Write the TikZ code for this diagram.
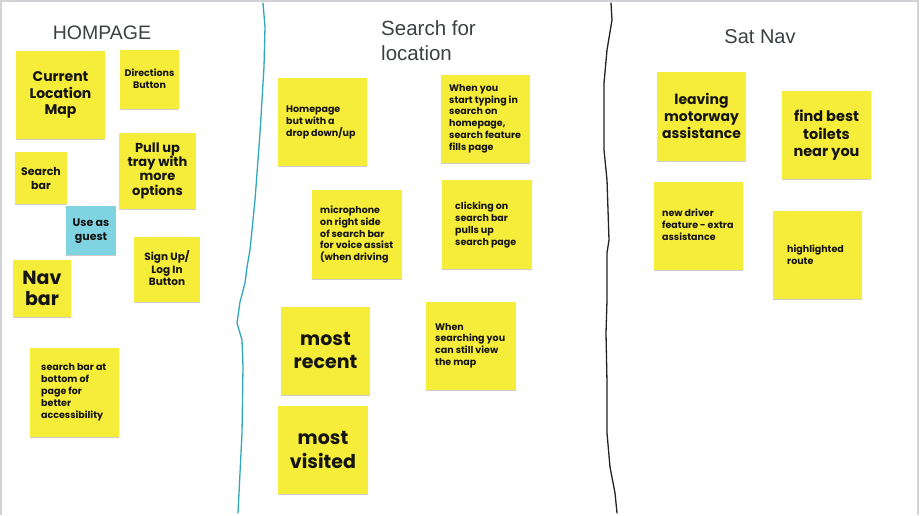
\documentclass[tikz,border=0pt]{standalone}
\usepackage{fontspec}
\setmainfont{Liberation Sans}
\newfontfamily\notefont{Poppins}
\usetikzlibrary{shadows}
\definecolor{notey}{RGB}{246,236,58}
\definecolor{notec}{RGB}{128,212,226}
\definecolor{ink}{RGB}{20,20,20}
\definecolor{titlec}{RGB}{60,64,67}
\definecolor{framegrey}{RGB}{210,210,216}
\definecolor{tealline}{RGB}{48,168,188}
\definecolor{darkline}{RGB}{35,35,35}
\begin{document}
\begin{tikzpicture}[x=1pt,y=-1pt,
  note/.style 2 args={draw=none, fill=notey, inner sep=0, anchor=north west,
    minimum width=#1pt, minimum height=#2pt,
    drop shadow={shadow xshift=0pt, shadow yshift=-1.2pt, opacity=0.2, fill=black}},
  ctxt/.style 2 args={inner sep=0, text=ink, align=center, anchor=center,
    font=\fontsize{#1}{#2}\notefont\bfseries},
  ltxt/.style 2 args={inner sep=0, text=ink, align=left, anchor=west,
    font=\fontsize{#1}{#2}\notefont\bfseries},
  ttl/.style 2 args={inner sep=0, text=titlec, font=\fontsize{#1}{#2}\selectfont},
  divider/.style={line width=1.3pt, line join=round, line cap=round}
]
\useasboundingbox (0,0) rectangle (920,515);
\fill[white] (0,0) rectangle (920,515);
% frame
\draw[framegrey, line width=2pt] (1,515) -- (1,1) -- (918,1) -- (918,515);

% dividers
\draw[divider, tealline] (263,3) -- (265,27) -- (264,67) -- (260,133) -- (255,200) -- (250,250)
  -- (247,267) -- (245,283) -- (240,302) -- (237,323) -- (242,340) -- (243,367) -- (242,433) -- (238,513);
\draw[divider, darkline] (611,3) -- (612,20) -- (607,50) -- (604,83) -- (604,150) -- (607,180)
  -- (609,240) -- (607,253) -- (607,300) -- (606,333) -- (607,383) -- (607,433) -- (610,467) -- (615,493) -- (617,513);

% titles
\node[ttl={19.5}{23}] (t1) at (102,33) {HOMPAGE};
\node[ttl={20.5}{25}, align=left, anchor=west] (t2) at (381,40.5) {Search for\\location};
\node[ttl={20}{24}] (t3) at (760,37) {Sat Nav};

% HOMEPAGE notes
\node[note={89}{88}] (cur) at (16,51) {};
\node[ctxt={14}{16.5}] (cur-t) at (60.5,95) {Current\\Location\\Map};
\node[note={59}{59}] (dir) at (120,50) {};
\node[ctxt={9.5}{12}] (dir-t) at (149.5,79) {Directions\\Button};
\node[note={77}{76}] (pull) at (119,133) {};
\node[ctxt={13}{14.3}] (pull-t) at (157.5,170.5) {Pull up\\tray with\\more\\options};
\node[note={52}{52}] (sbar) at (15,152) {};
\node[ctxt={11}{14}] (sbar-t) at (41,178) {Search\\bar};
\node[note={50}{49}, fill=notec] (guest) at (66,206) {};
\node[ctxt={11}{14}] (guest-t) at (91,231) {Use as\\guest};
\node[note={66}{65}] (sign) at (134,237) {};
\node[ctxt={10.5}{12.5}] (sign-t) at (167,268.5) {Sign Up/\\Log In\\Button};
\node[note={58}{57}] (nav) at (13,260) {};
\node[ctxt={19}{21}] (nav-t) at (42,288.5) {Nav\\bar};
\node[note={89}{89}] (sbot) at (30,348) {};
\node[ltxt={9.5}{12}] (sbot-t) at (41,392) {search bar at\\bottom of\\page for\\better\\accessibility};

% Search notes
\node[note={89}{88}] (home) at (278,78) {};
\node[ltxt={9.5}{11.7}] (home-t) at (286,122.5) {Homepage\\but with a\\drop down/up};
\node[note={89}{88}] (type) at (441,75) {};
\node[ltxt={9.5}{11.8}] (type-t) at (449,118.5) {When you\\start typing in\\search on\\homepage,\\search feature\\fills page};
\node[note={90}{89}] (mic) at (312,190) {};
\node[ltxt={9.5}{11.75}] (mic-t) at (320,234.5) {microphone\\on right side\\of search bar\\for voice assist\\(when driving};
\node[note={90}{89}] (click) at (442,180) {};
\node[ltxt={9.5}{12}] (click-t) at (455,225) {clicking on\\search bar\\pulls up\\search page};
\node[note={89}{88}] (recent) at (281,307) {};
\node[ctxt={19}{23}] (recent-t) at (325.5,350.5) {most\\recent};
\node[note={90}{88}] (visited) at (278,406) {};
\node[ctxt={19}{24}] (visited-t) at (323,450) {most\\visited};
\node[note={90}{88}] (srch) at (426,302) {};
\node[ltxt={9.5}{11.7}] (srch-t) at (435,345.5) {When\\searching you\\can still view\\the map};

% Sat Nav notes
\node[note={89}{89}] (leave) at (657,72) {};
\node[ctxt={14}{17}] (leave-t) at (701.5,116) {leaving\\motorway\\assistance};
\node[note={89}{88}] (toilet) at (782,91) {};
\node[ctxt={14.5}{17.5}] (toilet-t) at (826.5,135.5) {find best\\toilets\\near you};
\node[note={89}{88}] (driver) at (654,182) {};
\node[ltxt={9.5}{12}] (driver-t) at (662,225) {new driver\\feature - extra\\assistance};
\node[note={89}{88}] (route) at (773,211) {};
\node[ltxt={9.5}{12}] (route-t) at (787,255) {highlighted\\route};
\end{tikzpicture}
\end{document}
